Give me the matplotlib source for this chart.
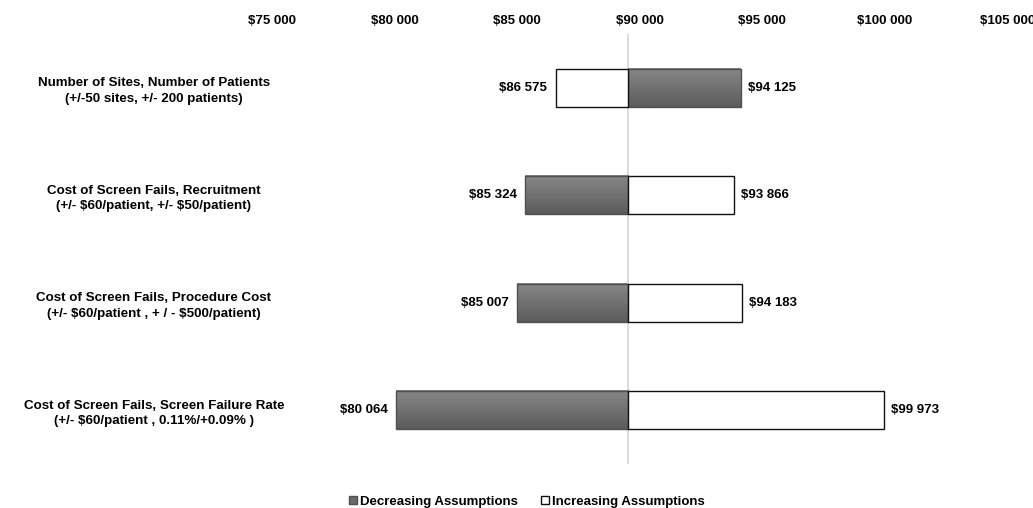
"""Tornado chart: sensitivity of total cost to key assumptions."""

import matplotlib

matplotlib.use("Agg")
import matplotlib.pyplot as plt  # noqa: E402
import numpy as np
from matplotlib.patches import Patch

plt.rcParams["font.family"] = ["Liberation Sans", "DejaVu Sans"]
plt.rcParams["font.weight"] = "bold"

base_value = 89530
categories = [
    "Number of Sites, Number of Patients\n(+/-50 sites, +/- 200 patients)",
    "Cost of Screen Fails, Recruitment\n(+/- \\$60/patient, +/- \\$50/patient)",
    "Cost of Screen Fails, Procedure Cost\n(+/- \\$60/patient , + / - \\$500/patient)",
    "Cost of Screen Fails, Screen Failure Rate\n(+/- \\$60/patient , 0.11%/+0.09% )",
]
# value reached under decreasing / increasing assumptions
decreasing = [94125, 85324, 85007, 80064]
increasing = [86575, 93866, 94183, 99973]
x_ticks = [75000, 80000, 85000, 90000, 95000, 100000, 105000]


def money(v):
    return "\\$" + f"{v:,}".replace(",", " ")


fig = plt.figure(figsize=(10.33, 5.08), dpi=100)
ax = fig.add_axes([0.2633, 0.087, 0.7118, 0.846])

y = np.arange(len(categories))
h = 0.355
grad = np.linspace(0.53, 0.36, 64).reshape(-1, 1)

for i in y:
    # gray bar (decreasing) with vertical gradient
    d = decreasing[i]
    x0, x1 = sorted((base_value, d))
    ax.imshow(grad, cmap="gray", vmin=0, vmax=1, aspect="auto",
              extent=(x0, x1, i + h / 2, i - h / 2), zorder=2)
    ax.barh(i, d - base_value, left=base_value, height=h, facecolor="none",
            edgecolor="#505050", linewidth=1.0, zorder=3)
    # white bar (increasing)
    u = increasing[i]
    ax.barh(i, u - base_value, left=base_value, height=h, facecolor="white",
            edgecolor="#111111", linewidth=1.0, zorder=3)
    for v in (d, u):
        if v < base_value:
            ax.annotate(money(v), (v, i), xytext=(-6, 0), textcoords="offset points",
                        ha="right", va="center", fontsize=9.5, fontweight="bold")
        else:
            ax.annotate(money(v), (v, i), xytext=(5, 0), textcoords="offset points",
                        ha="left", va="center", fontsize=9.5, fontweight="bold")

ax.axvline(base_value, color="#d4d4d4", linewidth=1.2, zorder=1)

ax.set_xlim(x_ticks[0], x_ticks[-1])
ax.set_ylim(len(categories) - 0.5, -0.5)
ax.set_xticks(x_ticks)
ax.set_xticklabels([money(v) for v in x_ticks], fontsize=9.5, fontweight="bold")
ax.xaxis.tick_top()
ax.tick_params(axis="x", length=0, pad=5)
ax.set_yticks(y)
ax.set_yticklabels(categories, fontsize=9.6, fontweight="bold", ha="center",
                   multialignment="center", linespacing=1.4)
ax.tick_params(axis="y", length=0, pad=85)
for s in ax.spines.values():
    s.set_visible(False)

handles = [
    Patch(facecolor="#6a6a6a", edgecolor="#505050", label="Decreasing Assumptions"),
    Patch(facecolor="white", edgecolor="#111111", label="Increasing Assumptions"),
]
fig.legend(handles=handles, loc="center", bbox_to_anchor=(0.51, 0.012), ncol=2,
           frameon=False, fontsize=9.5, handlelength=0.6, handleheight=0.6,
           handletextpad=0.2, columnspacing=1.8)

fig.savefig("out.png", dpi=100)
